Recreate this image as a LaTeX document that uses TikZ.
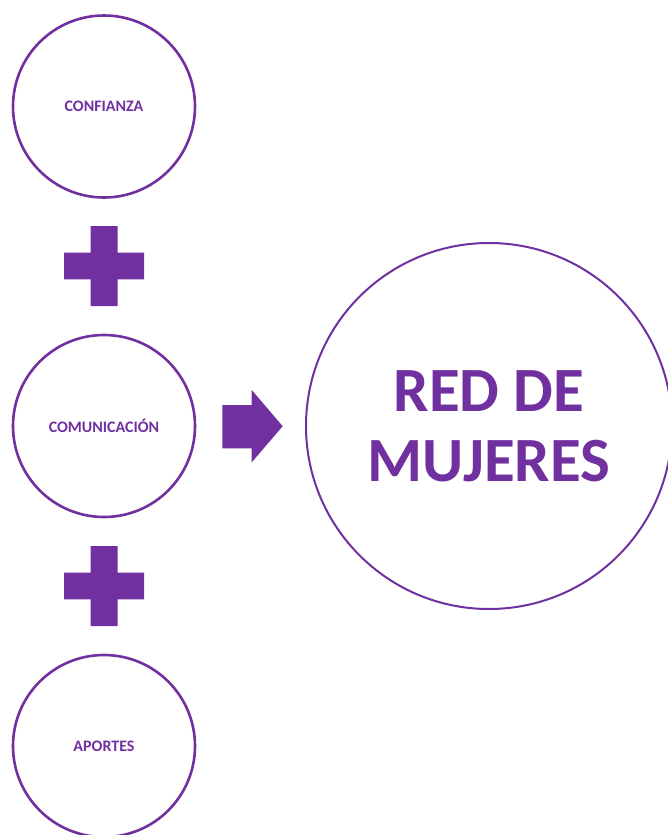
\documentclass[tikz,border=0pt]{standalone}
\usepackage{fontspec}
\setmainfont{Carlito}
\definecolor{redpurple}{RGB}{112,48,160}

\tikzset{every picture/.style={line width=0.75pt}}
\tikzset{
  itemcircle/.style={circle, draw=redpurple, line width=2.6pt, minimum size=182pt, inner sep=0pt,
    text=redpurple, font=\fontsize{16}{18}\selectfont\bfseries},
  resultcircle/.style={circle, draw=redpurple, line width=2pt, minimum size=366pt, inner sep=0pt,
    text=redpurple, align=center, font=\fontsize{63}{70}\selectfont\bfseries},
  plusmark/.style={fill=redpurple},
  arrowmark/.style={fill=redpurple}
}

\begin{document}
\begin{tikzpicture}[x=1pt,y=1pt,yscale=-1]
	\useasboundingbox (0,0) rectangle (668,835);
	
	%Flowchart: Connector
	\node [itemcircle] (confianza) at (104,106.5) {CONFIANZA};
	%Flowchart: Connector
	\node [itemcircle] (comunicacion) at (104,426) {COMUNICACIÓN};
	%Flowchart: Connector
	\node [itemcircle] (aportes) at (104,746) {APORTES};
	%Flowchart: Connector
	\node [resultcircle] (red) at (489,426) {RED DE\\MUJERES};
	
	%Plus
	\fill [plusmark, shift={(104,266)}] (-13.5,-40) rectangle (13.5,40) (-40,-13.3) rectangle (40,13.3);
	%Plus
	\fill [plusmark, shift={(104,586)}] (-13.5,-40) rectangle (13.5,40) (-40,-13.3) rectangle (40,13.3);
	
	%Right Arrow
	\fill [arrowmark] (222.3,405) -- (251.7,405) -- (251.7,390) -- (282.7,426.2) -- (251.7,462.3) -- (251.7,448.3) -- (222.3,448.3) -- cycle;
	
\end{tikzpicture}
\end{document}
